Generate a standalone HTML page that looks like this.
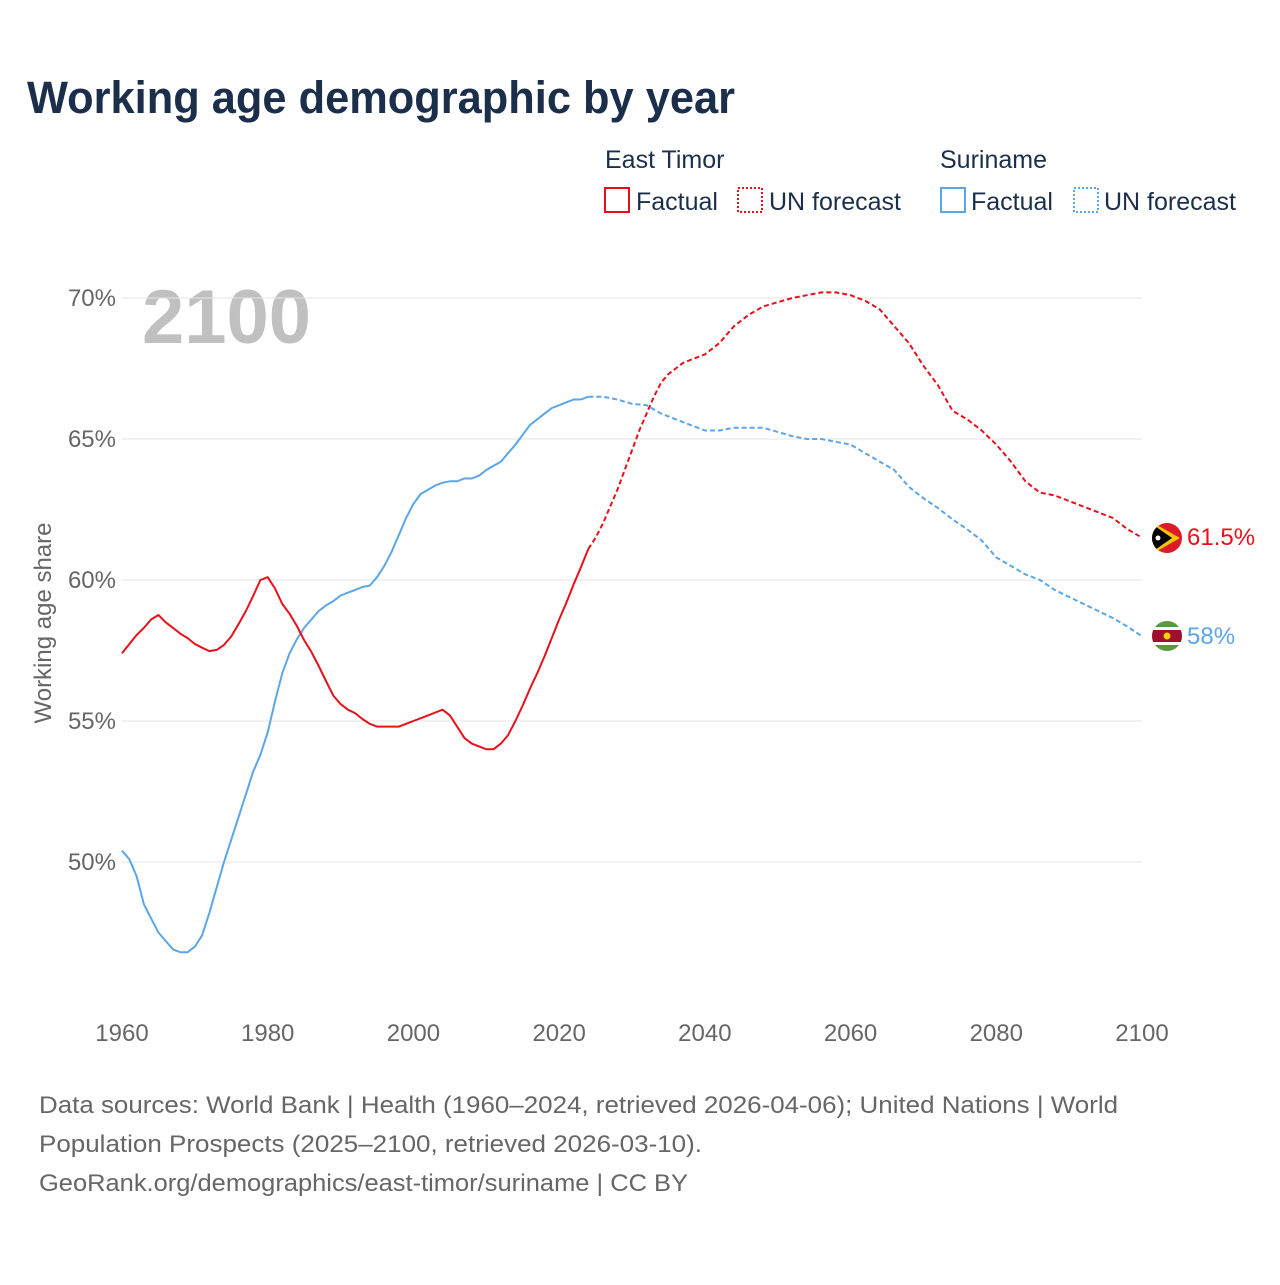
<!DOCTYPE html>
<html><head><meta charset="utf-8"><style>
body{margin:0;background:#fff;font-family:"Liberation Sans",sans-serif;}
</style></head><body>
<svg id="chart" width="1280" height="1280" xmlns="http://www.w3.org/2000/svg">
<text x="27" y="113" font-size="45" font-weight="bold" fill="#1b2f4b" textLength="708" lengthAdjust="spacingAndGlyphs">Working age demographic by year</text>
<g font-size="25" fill="#1b2f4b">
<text x="605" y="168">East Timor</text>
<rect x="605" y="188" width="24" height="24" fill="none" stroke="#e8101a" stroke-width="2"/>
<text x="636" y="210">Factual</text>
<rect x="738" y="188" width="24" height="24" fill="none" stroke="#e8101a" stroke-width="2" stroke-dasharray="2,2"/>
<text x="769" y="210">UN forecast</text>
<text x="940" y="168">Suriname</text>
<rect x="941" y="188" width="24" height="24" fill="none" stroke="#5aa6e8" stroke-width="2"/>
<text x="971" y="210">Factual</text>
<rect x="1074" y="188" width="24" height="24" fill="none" stroke="#5aa6e8" stroke-width="2" stroke-dasharray="2,2"/>
<text x="1104" y="210">UN forecast</text>
</g>
<text x="142" y="343" font-size="76" font-weight="bold" fill="#c0c0c0">2100</text>
<g id="grid"></g><g id="lines"></g>
<text transform="translate(51,623) rotate(-90)" text-anchor="middle" font-size="24" fill="#666">Working age share</text>
<g>
<clipPath id="c1"><circle cx="1167" cy="538" r="15"/></clipPath>
<g clip-path="url(#c1)"><rect x="1150" y="520" width="34" height="36" fill="#dc1a28"/><polygon points="1152,522 1180,538 1152,554" fill="#f8c300"/><polygon points="1152,524 1172,538 1152,552" fill="#000"/><circle cx="1158" cy="538" r="2.5" fill="#fff"/></g></g>
<g>
<clipPath id="c2"><circle cx="1167" cy="636" r="15"/></clipPath>
<g clip-path="url(#c2)"><rect x="1150" y="620" width="34" height="34" fill="#5b9a3e"/><rect x="1150" y="627" width="34" height="18" fill="#fff"/><rect x="1150" y="630" width="34" height="12" fill="#a0102a"/><circle cx="1167" cy="636" r="3.5" fill="#f5d000"/></g></g>
<text x="1187" y="545" font-size="24" fill="#e8101a">61.5%</text>
<text x="1187" y="644" font-size="24" fill="#5aa6e8">58%</text>
<g font-size="24" fill="#666">
<text x="39" y="1113" textLength="1079" lengthAdjust="spacingAndGlyphs">Data sources: World Bank | Health (1960–2024, retrieved 2026-04-06); United Nations | World</text>
<text x="39" y="1152" textLength="663" lengthAdjust="spacingAndGlyphs">Population Prospects (2025–2100, retrieved 2026-03-10).</text>
<text x="39" y="1191" textLength="649" lengthAdjust="spacingAndGlyphs">GeoRank.org/demographics/east-timor/suriname | CC BY</text>
</g>
</svg>
<script>
const yTicks=[50,55,60,65,70];
const xTicks=[1960,1980,2000,2020,2040,2060,2080,2100];
const etFactYears=[1960,1962,1963,1964,1965,1966,1967,1968,1969,1970,1971,1972,1973,1974,1975,1976,1977,1978,1979,1980,1981,1982,1983,1984,1985,1986,1987,1988,1989,1990,1991,1992,1993,1994,1995,1998,1999,2000,2001,2002,2003,2004,2005,2006,2007,2008,2009,2010,2011,2012,2013,2014,2015,2016,2017,2018,2019,2020,2021,2022,2023,2024];
const etFact=[57.4,58.05,58.3,58.6,58.76,58.5,58.3,58.1,57.94,57.73,57.6,57.48,57.52,57.7,58.0,58.44,58.9,59.43,60.0,60.1,59.7,59.15,58.8,58.37,57.87,57.45,56.95,56.42,55.9,55.6,55.4,55.28,55.07,54.9,54.8,54.8,54.9,55.0,55.1,55.2,55.3,55.4,55.2,54.8,54.4,54.2,54.1,54.0,54.0,54.2,54.5,55.0,55.55,56.15,56.7,57.3,57.95,58.6,59.2,59.85,60.46,61.1];
const etFcYears=[2024,2025,2026,2027,2028,2029,2030,2031,2032,2033,2034,2035,2036,2037,2038,2040,2042,2044,2046,2048,2050,2052,2054,2056,2058,2060,2062,2064,2066,2068,2070,2072,2074,2076,2078,2080,2082,2084,2086,2088,2090,2092,2094,2096,2098,2100];
const etFc=[61.1,61.5,62.0,62.6,63.2,63.9,64.6,65.3,65.9,66.5,67.0,67.3,67.5,67.7,67.8,68.0,68.4,69.0,69.4,69.7,69.85,70.0,70.1,70.2,70.2,70.1,69.9,69.6,69.0,68.4,67.6,66.9,66.0,65.7,65.3,64.8,64.2,63.5,63.1,63.0,62.8,62.6,62.4,62.2,61.8,61.5];
const srFactYears=[1960,1961,1962,1963,1964,1965,1966,1967,1968,1969,1970,1971,1972,1973,1974,1975,1976,1977,1978,1979,1980,1981,1982,1983,1984,1985,1986,1987,1988,1989,1990,1991,1992,1993,1994,1995,1996,1997,1998,1999,2000,2001,2002,2003,2004,2005,2006,2007,2008,2009,2010,2011,2012,2013,2014,2015,2016,2017,2018,2019,2020,2021,2022,2023,2024];
const srFact=[50.4,50.1,49.5,48.5,48.0,47.5,47.2,46.9,46.8,46.8,47.0,47.4,48.2,49.1,50.0,50.8,51.6,52.4,53.2,53.8,54.6,55.7,56.7,57.4,57.9,58.3,58.6,58.9,59.1,59.25,59.45,59.55,59.65,59.75,59.8,60.1,60.5,61.0,61.6,62.2,62.7,63.05,63.2,63.35,63.45,63.5,63.5,63.6,63.6,63.7,63.9,64.05,64.2,64.5,64.8,65.15,65.5,65.7,65.9,66.1,66.2,66.3,66.4,66.4,66.5];
const srFcYears=[2024,2026,2028,2030,2032,2034,2036,2038,2040,2042,2044,2046,2048,2050,2052,2054,2056,2058,2060,2062,2064,2066,2068,2070,2072,2074,2076,2078,2080,2082,2084,2086,2088,2090,2092,2094,2096,2098,2100];
const srFc=[66.5,66.5,66.4,66.25,66.2,65.9,65.7,65.5,65.3,65.3,65.4,65.4,65.4,65.25,65.1,65.0,65.0,64.9,64.8,64.5,64.2,63.9,63.3,62.9,62.55,62.15,61.8,61.4,60.8,60.5,60.2,60.0,59.65,59.4,59.15,58.9,58.65,58.35,58.0];
const NS="http://www.w3.org/2000/svg";
const X=v=>122+(v-1960)*(1020/140);
const Y=v=>298+(70-v)*28.2;
const grid=document.getElementById('grid'),lines=document.getElementById('lines');
function mk(tag,attrs,parent){const e=document.createElementNS(NS,tag);for(const k in attrs)e.setAttribute(k,attrs[k]);parent.appendChild(e);return e;}
yTicks.forEach(t=>{
 const l=mk('line',{x1:122,x2:1142,y1:Y(t),y2:Y(t),stroke:'#e6e6e6','stroke-width':1},grid);
 
 
 const tx=mk('text',{x:116,y:Y(t)+8,'text-anchor':'end','font-size':24,fill:'#666'},grid);
 tx.textContent=t+'%';
 
 
});
xTicks.forEach(t=>{
 const tx=mk('text',{x:X(t),y:1041,'text-anchor':'middle','font-size':24,fill:'#666'},grid);
 tx.textContent=t;
 
 
});
function path(xs,vs,color,dash,name){
 const d=xs.map((x,i)=>(i?'L':'M')+X(x).toFixed(1)+','+Y(vs[i]).toFixed(1)).join('');
 const p=mk('path',{d:d,fill:'none',stroke:color,'stroke-width':2,'stroke-linejoin':'round'},lines);
 if(dash)p.setAttribute('stroke-dasharray','5,3');
 
 
}
path(srFactYears,srFact,'#5aa6e8',false,'suriname-factual-line');
path(srFcYears,srFc,'#5aa6e8',true,'suriname-forecast-line');
path(etFactYears,etFact,'#e8101a',false,'east-timor-factual-line');
path(etFcYears,etFc,'#e8101a',true,'east-timor-forecast-line');
</script>
</body></html>
